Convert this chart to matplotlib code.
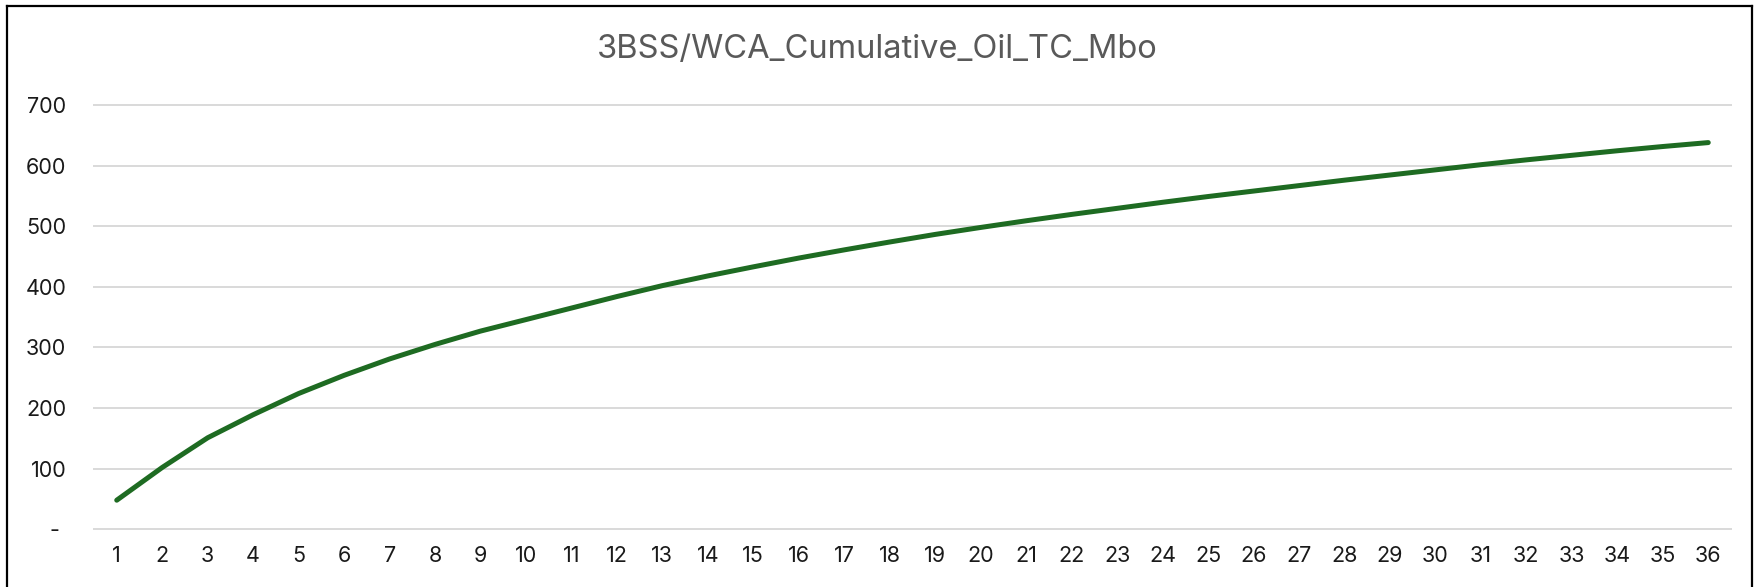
import matplotlib
matplotlib.use('Agg')
import matplotlib.pyplot as plt
from matplotlib.lines import Line2D

plt.rcParams['font.family'] = ['Inter', 'DejaVu Sans']

# cumulative oil type curve, Mbo per month
months = list(range(1, 37))
cum_oil = [48, 102, 151, 189, 224, 254, 281, 305, 327, 346,
           365, 384, 402, 418, 433, 447.5, 461, 474, 486.5, 498,
           509, 519.5, 529.5, 539.5, 549, 558, 567, 576, 584.5, 593,
           601.5, 609.5, 617, 624.5, 631.5, 638]
y_ticks = [0, 100, 200, 300, 400, 500, 600, 700]
y_labels = ['- ', '100', '200', '300', '400', '500', '600', '700']
title = '3BSS/WCA_Cumulative_Oil_TC_Mbo'

W, H = 1754, 587
fig = plt.figure(figsize=(W / 100, H / 100), dpi=100)
ax = fig.add_axes([94 / W, 1 - 529.3 / H, (1731 - 94) / W, (529.3 - 105) / H])

ax.plot(months, cum_oil, color='#1e6b22', lw=3.6, solid_capstyle='round', zorder=3)
ax.set_xlim(0.5, 36.5)
ax.set_ylim(0, 700)
ax.set_xticks(months)
ax.set_yticks(y_ticks)
ax.set_yticklabels(y_labels)
ax.grid(axis='y', color='#d9d9d9', lw=1.4)
ax.set_axisbelow(True)
for gl in ax.get_ygridlines():
    gl.set_clip_on(False)
for s in ax.spines.values():
    s.set_visible(False)
ax.tick_params(length=0, labelsize=15.5, labelcolor='#1a1a1a')
ax.tick_params(axis='y', pad=20)
ax.tick_params(axis='x', pad=12)

fig.text(0.5, 1 - 49 / H, title, ha='center', va='center', fontsize=23.5, color='#595959')

# chart border (bottom edge falls outside the picture)
bx0, bx1, by = 7 / W, 1752 / W, 1 - 6 / H
for xs, ys in [([bx0, bx0], [0, by]), ([bx0, bx1], [by, by]), ([bx1, bx1], [by, 0])]:
    fig.add_artist(Line2D(xs, ys, color='black', lw=1.6, transform=fig.transFigure))

fig.savefig('out.png', dpi=100)
